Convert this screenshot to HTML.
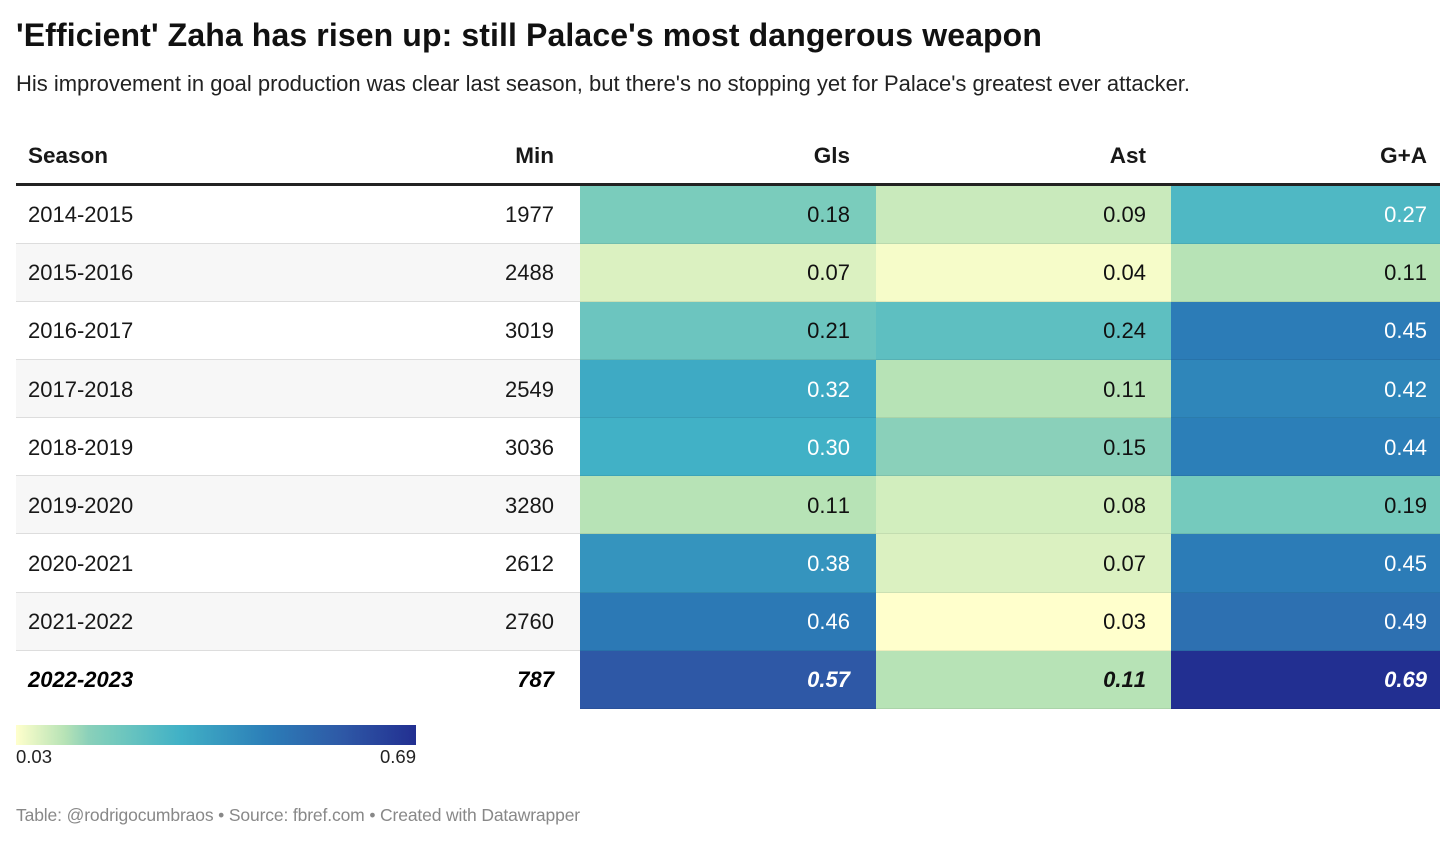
<!DOCTYPE html>
<html lang="en">
<head>
<meta charset="utf-8">
<title>'Efficient' Zaha has risen up</title>
<style>
html,body{margin:0;padding:0;background:#fff;}
#page{position:relative;width:1456px;height:841px;overflow:hidden;background:#fff;font-family:"Liberation Sans",Arial,sans-serif;color:#181818;}
.t{position:absolute;white-space:nowrap;}
#title{left:16px;top:15px;line-height:40px;font-size:32px;font-weight:700;color:#111;}
#subtitle{left:16px;top:69px;line-height:30px;font-size:22px;color:#222;}
#rule{position:absolute;left:16px;top:183px;width:1424px;height:3px;background:#222;}
.head{font-size:22.5px;font-weight:700;line-height:30px;top:141px;color:#181818;}
.cell{font-size:22px;line-height:30px;font-kerning:none;}
.bg{position:absolute;box-sizing:border-box;}
.heat{border-bottom:1px solid rgba(0,0,0,.07);}
.sep{position:absolute;left:16px;width:564px;height:1px;background:#ddd;}
.hl{font-weight:700;font-style:italic;color:#000;}
#legend-bar{position:absolute;left:16px;top:725px;width:400px;height:20px;}
.leg{font-size:18.5px;line-height:22px;top:746px;color:#222;font-kerning:none;}
#footer{left:16px;top:803px;line-height:24px;font-size:17.5px;color:#888;}
</style>
</head>
<body>
<div id="page">
  <div id="title" class="t">'Efficient' Zaha has risen up: still Palace's most dangerous weapon</div>
  <div id="subtitle" class="t">His improvement in goal production was clear last season, but there's no stopping yet for Palace's greatest ever attacker.</div>
  <div class="t head" style="left:28px">Season</div>
  <div class="t head" style="right:902px">Min</div>
  <div class="t head" style="right:606px">Gls</div>
  <div class="t head" style="right:310px">Ast</div>
  <div class="t head" style="right:29px">G+A</div>
  <div id="rows"></div>
  <div id="rule"></div>
  <div id="legend-bar"></div>
  <div id="legend-min" class="t leg" style="left:16px">0.03</div>
  <div id="legend-max" class="t leg" style="right:1040px">0.69</div>
  <div id="footer" class="t">Table: @rodrigocumbraos • Source: fbref.com • Created with Datawrapper</div>
</div>
<script>
const seasons = ["2014-2015","2015-2016","2016-2017","2017-2018","2018-2019","2019-2020","2020-2021","2021-2022","2022-2023"];
const minutes = [1977,2488,3019,2549,3036,3280,2612,2760,787];
const goals = [0.18,0.07,0.21,0.32,0.30,0.11,0.38,0.46,0.57];
const assists = [0.09,0.04,0.24,0.11,0.15,0.08,0.07,0.03,0.11];
const goalsPlusAssists = [0.27,0.11,0.45,0.42,0.44,0.19,0.45,0.49,0.69];
const scaleDomain = [0.03,0.11,0.15,0.18,0.30,0.44,0.57,0.69];
const scaleColors = ["#ffffcc","#b7e3b6","#8ad0ba","#7accbc","#41b1c6","#2c7fb8","#2e58a6","#222f91"];

const ROW_TOP = 185.4, ROW_H = 58.18;
const COL_X = [580,876,1171,1440];
const COL_RIGHT = [850,1146,1427];

function rgb(hex){
  return [1,3,5].map(function(i){return parseInt(hex.substr(i,2),16);});
}
function colorFor(v){
  var n = scaleDomain.length;
  if(v <= scaleDomain[0]) return scaleColors[0];
  if(v >= scaleDomain[n-1]) return scaleColors[n-1];
  for(var i=0;i<n-1;i++){
    if(v <= scaleDomain[i+1]){
      var t=(v-scaleDomain[i])/(scaleDomain[i+1]-scaleDomain[i]);
      var a=rgb(scaleColors[i]), b=rgb(scaleColors[i+1]);
      return 'rgb('+a.map(function(c,k){return Math.round(c+(b[k]-c)*t);}).join(',')+')';
    }
  }
}
function textY(i){ return ROW_TOP + ROW_H*i + ROW_H/2 - 14.5; }

const rowsEl = document.getElementById('rows');

seasons.forEach(function(season,i){
  var y = ROW_TOP + ROW_H*i;
  var last = i === seasons.length-1;

  if(i % 2 === 1){
    var band = document.createElement('div');
    band.className = 'bg';
    band.style.cssText = 'left:16px;width:564px;top:'+y+'px;height:'+ROW_H+'px;background:#f7f7f7;';
    
    
    rowsEl.appendChild(band);
  }
  if(!last){
    var sep = document.createElement('div');
    sep.className = 'sep';
    sep.style.top = (y+ROW_H-1)+'px';
    
    
    rowsEl.appendChild(sep);
  }

  var s = document.createElement('div');
  s.className = 't cell' + (last ? ' hl' : '');
  s.style.left = '28px';
  s.style.top = textY(i)+'px';
  s.textContent = season;
  
  
  rowsEl.appendChild(s);

  var m = document.createElement('div');
  m.className = 't cell' + (last ? ' hl' : '');
  m.style.right = '902px';
  m.style.top = textY(i)+'px';
  m.textContent = minutes[i];
  
  
  rowsEl.appendChild(m);

  [goals[i],assists[i],goalsPlusAssists[i]].forEach(function(v,c){
    var bg = document.createElement('div');
    bg.className = 'bg heat';
    bg.style.cssText = 'left:'+COL_X[c]+'px;width:'+(COL_X[c+1]-COL_X[c])+'px;top:'+y+'px;height:'+ROW_H+'px;background:'+colorFor(v)+';';
    
    
    rowsEl.appendChild(bg);

    var tx = document.createElement('div');
    tx.className = 't cell' + (last ? ' hl' : '');
    tx.style.right = (1456-COL_RIGHT[c])+'px';
    tx.style.top = textY(i)+'px';
    tx.style.color = v >= 0.27 ? '#fff' : '#111';
    tx.textContent = v.toFixed(2);
    
    
    rowsEl.appendChild(tx);
  });
});

var lo = scaleDomain[0], hi = scaleDomain[scaleDomain.length-1];
document.getElementById('legend-bar').style.background =
  'linear-gradient(to right,' + scaleDomain.map(function(v,i){
    return scaleColors[i]+' '+((v-lo)/(hi-lo)*100)+'%';
  }).join(',') + ')';

function fit(id,target){
  var el = document.getElementById(id);
  var w = el.getBoundingClientRect().width;
  el.style.letterSpacing = ((target-w)/el.textContent.length)+'px';
}
fit('title',1026);
fit('subtitle',1174);
fit('footer',564);
</script>
</body>
</html>
